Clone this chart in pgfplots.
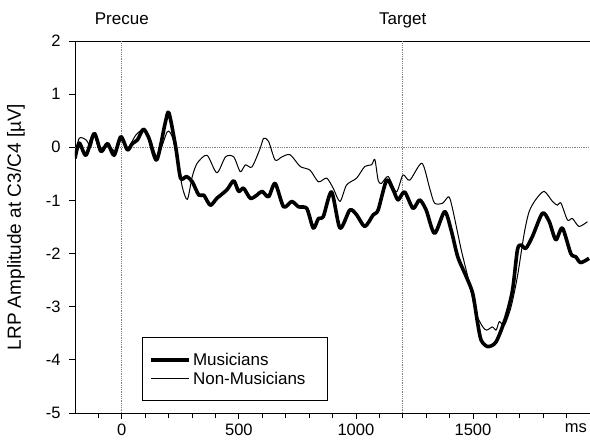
\documentclass[border=0pt]{standalone}
\usepackage{fontspec}
\setmainfont{Liberation Sans}
\usepackage{pgfplots}
\pgfplotsset{compat=1.18}

\begin{document}
\begin{tikzpicture}
\begin{axis}[%
scale only axis,
width=515pt,
height=372pt,
xmin=-200, xmax=2000,
ymin=-5, ymax=2,
axis x line=box,
axis y line=left,
y axis line style={-},
xtick pos=bottom,
tick align=outside,
xtick={0,500,1000,1500},
minor xtick={-100,100,200,...,1900},
ytick={-5,-4,...,2},
extra x ticks={1940},
extra x tick labels={ms},
extra x tick style={tick style={draw=none}},
major tick length=6pt,
minor tick length=5pt,
tick style={black, line width=0.8pt},
axis line style={black, line width=0.9pt},
/pgf/number format/assume math mode=true,
/pgf/number format/1000 sep={},
ticklabel style={font=\fontsize{16.5}{18}\selectfont},
yticklabel style={xshift=-5pt},
xticklabel style={yshift=-1pt},
ylabel={LRP Amplitude at C3/C4 [µV]},
ylabel style={at={(axis description cs:-0.105,0.5)}, anchor=base, font=\fontsize{19}{21}\selectfont},
legend style={at={(67pt,12pt)}, anchor=south west, draw=black, line width=0.9pt,
  inner xsep=7pt, inner ysep=13pt, row sep=1pt, font=\fontsize{17}{19}\selectfont},
legend cell align=left,
legend image code/.code={\draw[#1] (0pt,0pt) -- (38pt,0pt);},
clip mode=individual
]

% reference lines
\draw[densely dotted, gray, line width=0.8pt] (axis cs:0,-5) -- (axis cs:0,2);
\draw[densely dotted, gray, line width=0.8pt] (axis cs:1200,-5) -- (axis cs:1200,2);
\draw[densely dotted, gray, line width=0.8pt] (axis cs:-200,0) -- (axis cs:2000,0);

% Musicians
\addplot [black, line width=3.6pt, smooth, tension=0.45, line join=round]
coordinates{
(-200,-0.21)(-182,0.08)(-153,-0.15)(-118,0.26)(-89,-0.08)(-61,0.07)(-33,-0.15)(-4,0.2)
(24,-0.05)(45,0.07)(67,0.14)(92,0.34)(116,0.17)(149,-0.24)(185,0.45)(201,0.65)(230,0.01)
(251,-0.58)(277,-0.55)(301,-0.65)(329,-0.9)(350,-0.9)(378,-1.09)(406,-0.96)(449,-0.8)
(478,-0.63)(499,-0.83)(520,-0.77)(549,-0.96)(577,-0.9)(599,-0.83)(627,-0.93)(655,-0.68)
(691,-1.12)(726,-1.02)(755,-1.12)(790,-1.15)(818,-1.52)(840,-1.34)(861,-1.3)(896,-0.84)
(932,-1.52)(974,-1.18)(1003,-1.27)(1038,-1.49)(1074,-1.27)(1095,-1.18)(1131,-0.62)
(1159,-0.8)(1180,-0.99)(1208,-0.84)(1244,-1.15)(1272,-0.99)(1300,-1.18)(1336,-1.62)
(1379,-1.21)(1407,-1.56)(1435,-2.06)(1471,-2.43)(1499,-2.75)(1520,-3.31)(1535,-3.63)
(1563,-3.75)(1599,-3.66)(1641,-3.19)(1669,-2.69)(1690,-1.93)(1705,-1.84)(1726,-1.9)
(1754,-1.68)(1797,-1.24)(1826,-1.4)(1854,-1.74)(1882,-1.52)(1918,-2.0)(1939,-2.06)
(1960,-2.17)(1996,-2.09)
};
\addlegendentry{Musicians}

% Non-Musicians
\addplot [black, line width=1pt, smooth, tension=0.45, line join=round]
coordinates{
(-200,-0.15)(-182,0.17)(-153,0.14)(-132,0.01)(-118,0.23)(-97,-0.02)(-61,0.04)(-26,-0.08)
(-4,0.14)(24,-0.02)(60,0.23)(95,0.34)(123,0.14)(152,-0.18)(194,0.29)(215,0.2)(237,-0.18)
(258,-0.74)(280,-0.98)(301,-0.55)(322,-0.3)(364,-0.15)(406,-0.48)(443,-0.18)(478,-0.18)
(506,-0.46)(528,-0.33)(556,-0.37)(591,-0.02)(606,0.17)(627,0.11)(655,-0.24)(684,-0.18)
(719,-0.14)(762,-0.36)(804,-0.43)(840,-0.65)(875,-0.58)(903,-0.77)(932,-1.02)(960,-0.71)
(1003,-0.58)(1038,-0.36)(1067,-0.33)(1081,-0.23)(1095,-0.62)(1109,-0.68)(1138,-0.55)
(1173,-0.84)(1201,-0.52)(1230,-0.62)(1282,-0.3)(1315,-0.77)(1336,-1.05)(1371,-1.05)
(1397,-0.93)(1414,-1.18)(1450,-1.93)(1485,-2.56)(1513,-3.12)(1542,-3.38)(1559,-3.44)
(1584,-3.38)(1599,-3.44)(1613,-3.28)(1634,-3.35)(1663,-3.0)(1690,-2.43)(1719,-1.62)
(1740,-1.21)(1769,-0.98)(1804,-0.83)(1840,-1.02)(1861,-1.09)(1876,-1.05)(1904,-1.37)
(1925,-1.34)(1953,-1.49)(1989,-1.4)
};
\addlegendentry{Non-Musicians\hspace*{13pt}}

\node[anchor=base, font=\fontsize{17}{19}\selectfont] at ([yshift=17pt]axis cs:0,2) {Precue};
\node[anchor=base, font=\fontsize{17}{19}\selectfont] at ([yshift=17pt]axis cs:1200,2) {Target};
\end{axis}
\pgfresetboundingbox
\path[use as bounding box] (-75pt,-32pt) rectangle (515pt,413pt);
\end{tikzpicture}
\end{document}
